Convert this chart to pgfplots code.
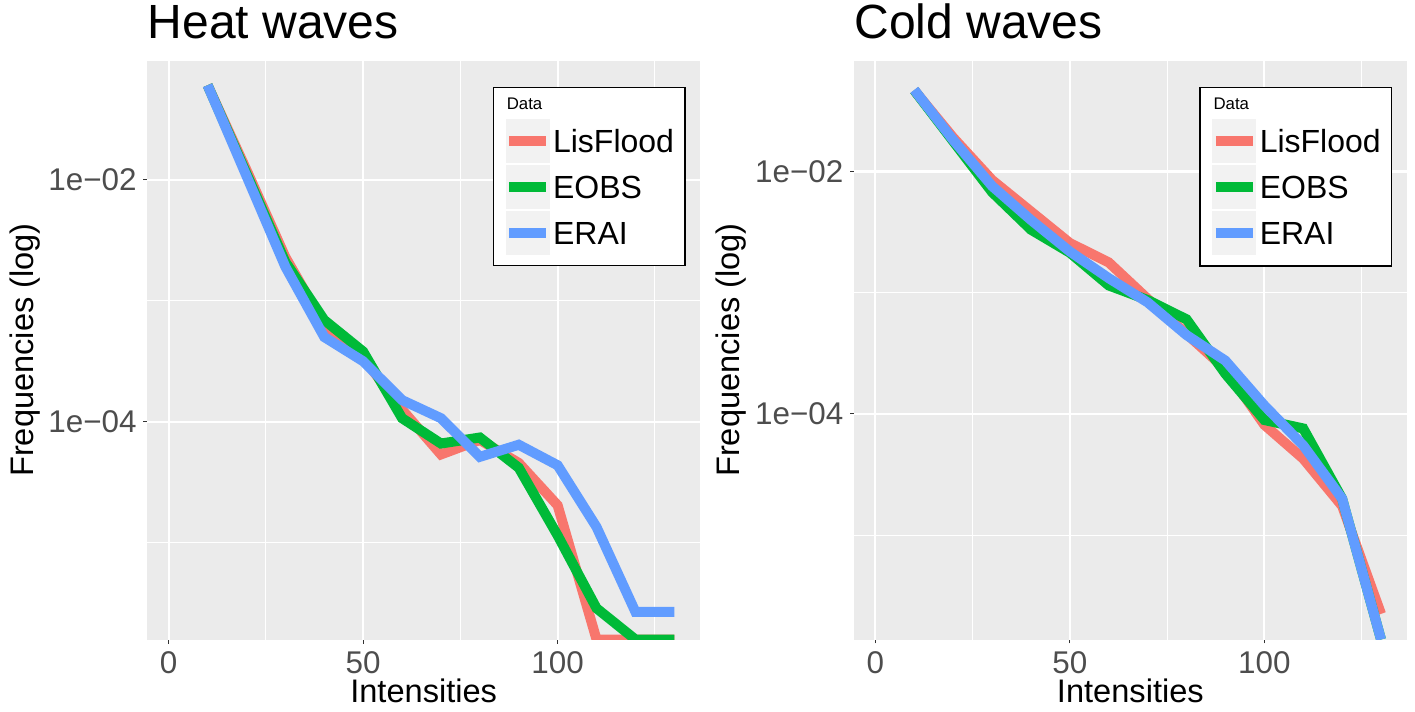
\documentclass[border=0pt]{standalone}
\usepackage{fontspec}
\setmainfont{Liberation Sans}
\usepackage{pgfplots}
\pgfplotsset{compat=1.18}
\definecolor{ggred}{HTML}{F8766D}
\definecolor{gggreen}{HTML}{00BA38}
\definecolor{ggblue}{HTML}{619CFF}
\definecolor{ggbg}{HTML}{EBEBEB}
\definecolor{legkey}{HTML}{F2F2F2}
\definecolor{gray30}{HTML}{4D4D4D}
\definecolor{gray20}{HTML}{333333}

\pgfplotsset{
  legend image code/.code={
    \path[fill=legkey, draw=none] (0pt,-11pt) rectangle (22pt,11pt);
    \draw[#1] (1.75pt,0pt) -- (20.25pt,0pt);
  },
  every axis plot/.append style={line width=5pt},
}

\begin{document}
\begin{tikzpicture}
\useasboundingbox (0,0) rectangle (707.5pt,356pt);
\pgfplotsset{
  every axis/.append style={
    scale only axis, width=276.35pt, height=289.5pt,
    anchor=south west,
    xmin=-5.5, xmax=136.6,
    axis background/.style={fill=ggbg},
    axis line style={draw=none},
    grid=both,
    major grid style={white, line width=1.1pt},
    minor grid style={white, line width=0.55pt},
    xtick={0,50,100}, xticklabels={0,50,100}, minor xtick={25,75,125},
    xtick pos=bottom, ytick pos=left,
    tick align=outside, major tick length=2pt, minor tick length=0pt,
    tick style={gray20, line width=0.55pt},
    xticklabel style={font=\fontsize{15.7}{18}\selectfont, text=gray30, inner sep=0pt, anchor=north, yshift=-3.75pt},
    yticklabel style={font=\fontsize{15.7}{18}\selectfont, text=gray30, inner sep=0pt, anchor=east, xshift=-3.15pt},
    title style={at={(0,1)}, anchor=base west, yshift=5.25pt, inner sep=0pt, font=\fontsize{24}{29}\selectfont},
    xlabel style={at={(axis description cs:0.5,0)}, anchor=base, yshift=-31.5pt, inner sep=0pt, font=\fontsize{16.3}{19}\selectfont},
    ylabel style={at={(axis description cs:-0.2063,0.5)}, anchor=base, inner sep=0pt, font=\fontsize{16.3}{19}\selectfont},
    legend style={at={(0.625,0.954)}, anchor=north west, draw=black, line width=0.55pt,
      fill=white, inner xsep=5.5pt, inner ysep=5.35pt, row sep=1.15pt,
      font=\fontsize{16}{19}\selectfont,
      nodes={inner sep=0pt, text depth=0pt},
      /tikz/every odd column/.style={column sep=0.9pt}},
    legend cell align=left,
  }
}

% ---------------- Heat waves ----------------
\begin{axis}[ymode=log, at={(73.65pt,36.25pt)},
  ymin=1.59e-6, ymax=0.0964, title={Heat waves},
  ytick={1e-2,1e-4}, yticklabels={1e−02,1e−04}, minor ytick={1e-3,1e-5},
  xlabel={Intensities}, ylabel={Frequencies (log)}]
\addlegendimage{empty legend}
\addlegendentry[font=\fontsize{8.4}{10}\selectfont, text depth=3.2pt]{\hspace*{-29.5pt}Data}
\addplot[ggred] coordinates {
 (10,0.06026) (20,0.01202) (30,0.002291) (40,0.000631) (50,0.000339)
 (60,0.000126) (70,5.37e-5) (80,7.08e-5) (90,4.57e-5) (100,2.04e-5)
 (110,1.59e-6) (120,1.59e-6) (130,1.59e-6)};
\addlegendentry{LisFlood}
\addplot[gggreen] coordinates {
 (10,0.06026) (20,0.01122) (30,0.002089) (40,0.000692) (50,0.000380)
 (60,0.000107) (70,6.61e-5) (80,7.41e-5) (90,4.17e-5) (100,1.15e-5)
 (110,2.88e-6) (120,1.59e-6) (130,1.59e-6)};
\addlegendentry{EOBS}
\addplot[ggblue] coordinates {
 (10,0.06026) (20,0.01072) (30,0.001905) (40,0.000501) (50,0.000316)
 (60,0.000151) (70,0.000107) (80,5.13e-5) (90,6.46e-5) (100,4.37e-5)
 (110,1.35e-5) (120,2.69e-6) (130,2.69e-6)};
\addlegendentry{ERAI}
\end{axis}

% ---------------- Cold waves ----------------
\begin{axis}[ymode=log, at={(427pt,36.25pt)},
  ymin=1.377e-6, ymax=0.0824, title={Cold waves},
  ytick={1e-2,1e-4}, yticklabels={1e−02,1e−04}, minor ytick={1e-3,1e-5},
  xlabel={Intensities}, ylabel={Frequencies (log)}]
\addlegendimage{empty legend}
\addlegendentry[font=\fontsize{8.4}{10}\selectfont, text depth=3.2pt]{\hspace*{-29.5pt}Data}
\addplot[ggred] coordinates {
 (10,0.04677) (20,0.01905) (30,0.008511) (40,0.004677) (50,0.002570)
 (60,0.001778) (70,0.000891) (80,0.000457) (90,0.000234) (100,8.13e-5)
 (110,4.27e-5) (120,1.74e-5) (130,2.24e-6)};
\addlegendentry{LisFlood}
\addplot[gggreen] coordinates {
 (10,0.04677) (20,0.01778) (30,0.006761) (40,0.003311) (50,0.002138)
 (60,0.001148) (70,0.000871) (80,0.000603) (90,0.000214) (100,8.91e-5)
 (110,7.59e-5) (120,2.00e-5) (130,1.377e-6)};
\addlegendentry{EOBS}
\addplot[ggblue] coordinates {
 (10,0.0472) (20,0.01820) (30,0.007586) (40,0.003981) (50,0.002188)
 (60,0.001318) (70,0.000832) (80,0.000447) (90,0.000275) (100,0.0001175)
 (110,5.50e-5) (120,2.00e-5) (130,1.377e-6)};
\addlegendentry{ERAI}
\end{axis}
\end{tikzpicture}
\end{document}
